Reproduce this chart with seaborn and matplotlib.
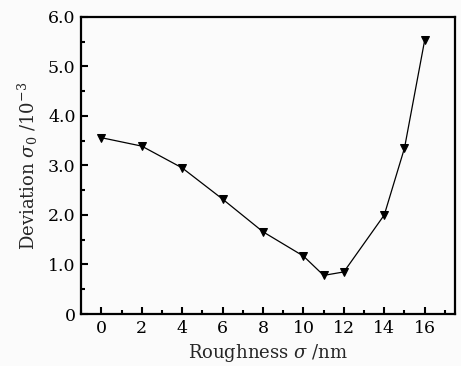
import matplotlib
matplotlib.use("Agg")
import matplotlib.pyplot as plt
import seaborn as sns
import pandas as pd
from matplotlib.ticker import MultipleLocator, FixedLocator

roughness = [0, 2, 4, 6, 8, 10, 11, 12, 14, 15, 16]
deviation = [3.56, 3.39, 2.95, 2.32, 1.66, 1.17, 0.78, 0.85, 2.00, 3.35, 5.53]
xticks = [0, 2, 4, 6, 8, 10, 12, 14, 16]
yticks = [0, 1, 2, 3, 4, 5, 6]
ytick_labels = ["0", "1.0", "2.0", "3.0", "4.0", "5.0", "6.0"]

sns.set_theme(style="ticks")
plt.rcParams['font.family'] = ['DejaVu Serif']
plt.rcParams['mathtext.fontset'] = 'dejavuserif'

df = pd.DataFrame({"x": roughness, "y": deviation})

fig = plt.figure(figsize=(4.61, 3.66), dpi=100)
fig.patch.set_facecolor("#fbfbfb")
ax = fig.add_axes([0.176, 0.142, 0.811, 0.812])
ax.set_facecolor("#fbfbfb")
sns.lineplot(data=df, x="x", y="y", ax=ax, color="black", linewidth=0.9,
             marker="v", markersize=6, markeredgecolor="black", markerfacecolor="black")

ax.set_xlim(-1, 17.5)
ax.set_ylim(0, 6)
ax.xaxis.set_major_locator(FixedLocator(xticks))
ax.xaxis.set_minor_locator(MultipleLocator(1))
ax.set_yticks(yticks)
ax.set_yticklabels(ytick_labels)
ax.yaxis.set_minor_locator(MultipleLocator(0.5))
ax.tick_params(which="both", direction="in", top=False, right=False, labelsize=12.5, colors="black", width=1.5)
ax.tick_params(which="major", length=5, pad=4)
ax.tick_params(which="minor", length=3)
for s in ax.spines.values():
    s.set_linewidth(1.6)
    s.set_color("black")
ax.set_xlabel(r"Roughness $\sigma$ /nm", fontsize=13, labelpad=4)
ax.set_ylabel(r"Deviation $\sigma_0$ /10$^{-3}$", fontsize=13, labelpad=6)
fig.savefig("out.png", dpi=100, facecolor=fig.get_facecolor())
